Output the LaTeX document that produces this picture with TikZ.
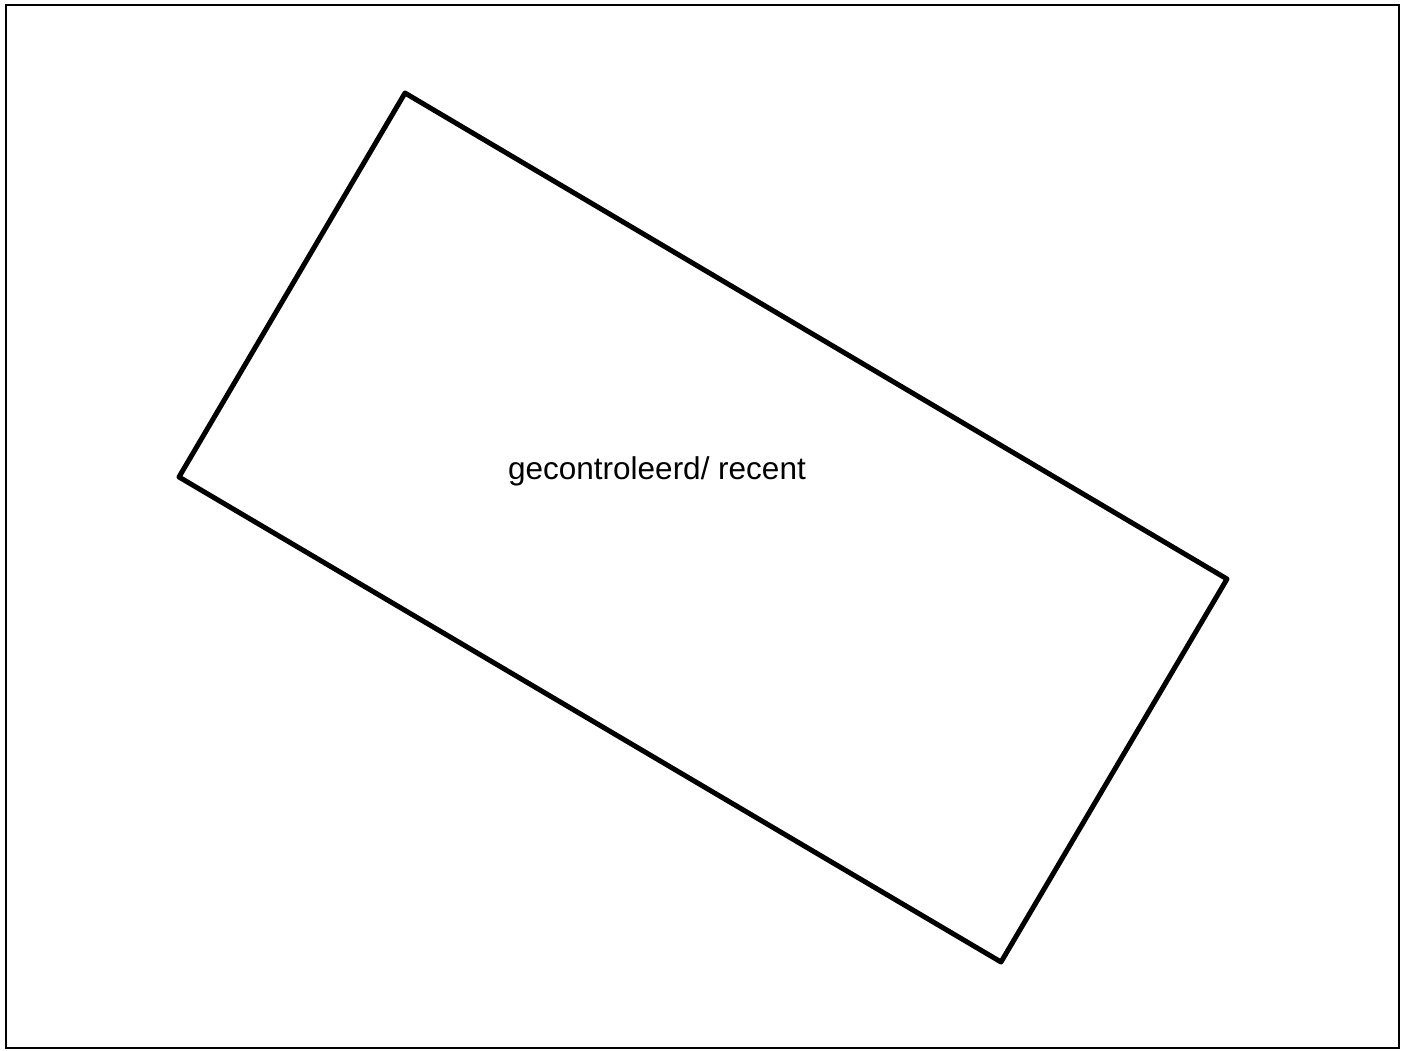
\documentclass[tikz,border=0pt]{standalone}
\usepackage{fontspec}
\setmainfont{Liberation Sans}
\begin{document}
\begin{tikzpicture}[x=1pt,y=-1pt,
  frame/.style={draw=black,line width=2pt},
  outline/.style={draw=black,line width=5pt,line join=round},
  label/.style={font=\fontsize{31.5}{36}\selectfont,anchor=base,inner sep=0pt}]
\useasboundingbox (0,0) rectangle (1408,1050);
\draw[frame] (6,5) rectangle (1399,1048);
\coordinate (t) at (405,93);
\coordinate (r) at (1227,579);
\coordinate (b) at (1001,962);
\coordinate (l) at (179,477);
\draw[outline] (t) -- (r) -- (b) -- (l) -- cycle;
\node[label] (txt) at (657,479) {gecontroleerd/ recent};
\end{tikzpicture}
\end{document}
